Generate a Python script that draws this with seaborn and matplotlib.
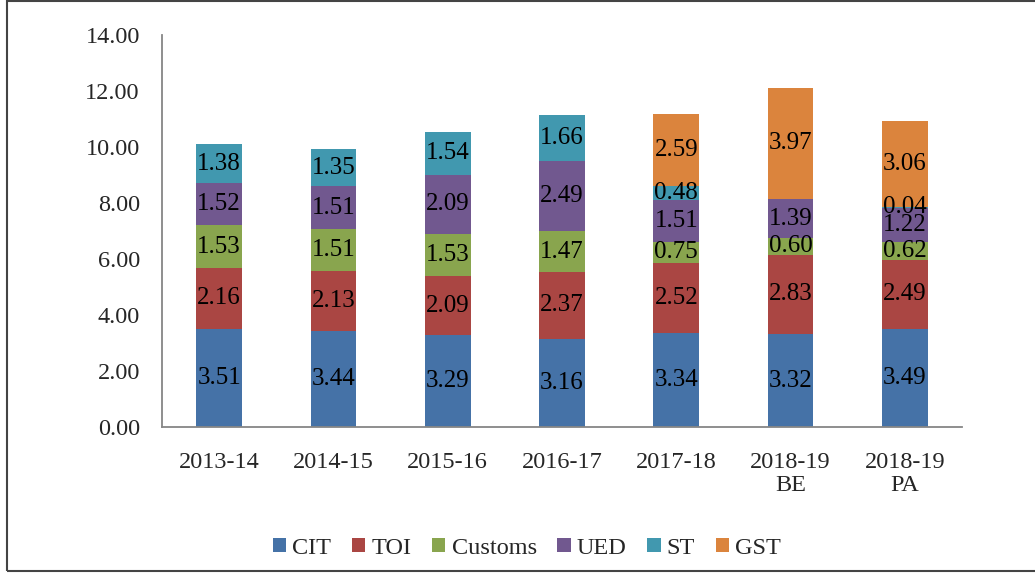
import numpy as np
import pandas as pd
import matplotlib
matplotlib.use("Agg")
import matplotlib.pyplot as plt
from matplotlib.patches import Rectangle, Patch
import seaborn as sns

categories = ["2013-14", "2014-15", "2015-16", "2016-17", "2017-18", "2018-19\nBE", "2018-19\nPA"]
series_names = ["CIT", "TOI", "Customs", "UED", "ST", "GST"]
cit = [3.51, 3.44, 3.29, 3.16, 3.34, 3.32, 3.49]
toi = [2.16, 2.13, 2.09, 2.37, 2.52, 2.83, 2.49]
customs = [1.53, 1.51, 1.53, 1.47, 0.75, 0.60, 0.62]
ued = [1.52, 1.51, 2.09, 2.49, 1.51, 1.39, 1.22]
st = [1.38, 1.35, 1.54, 1.66, 0.48, 0.00, 0.04]
gst = [0.00, 0.00, 0.00, 0.00, 2.59, 3.97, 3.06]
yticks = [0, 2, 4, 6, 8, 10, 12, 14]

colors = ["#4572A7", "#AA4643", "#89A54E", "#71588F", "#4198AF", "#DB843D"]

sns.set_style("white")
plt.rcParams["font.family"] = ["Liberation Serif", "DejaVu Serif"]

W, H = 1035, 573
fig = plt.figure(figsize=(W / 100, H / 100), dpi=100)
ax = fig.add_axes([162 / W, 1 - 427 / H, (962 - 162) / W, (427 - 35) / H])

data = [cit, toi, customs, ued, st, gst]
cum = np.cumsum(np.array(data), axis=0)

# draw cumulative bars from top series down so lower ones overlay
for i in range(len(series_names) - 1, -1, -1):
    df = pd.DataFrame({"cat": categories, "val": cum[i]})
    sns.barplot(data=df, x="cat", y="val", color=colors[i], width=0.4,
                saturation=1, ax=ax, edgecolor="none", linewidth=0)

for i, vals in enumerate(data):
    for j, v in enumerate(vals):
        if v > 0:
            ax.text(j, cum[i][j] - v / 2, f"{v:.2f}", ha="center", va="center",
                    fontsize=18, color="black")

ax.set_ylim(0, 14)
ax.set_xlim(-0.5, len(categories) - 0.5)
ax.set_yticks(yticks)
ax.set_yticklabels([f"{t:.2f}" for t in yticks], fontsize=17.5)
ax.set_xticks(range(len(categories)))
ax.set_xticklabels(categories, fontsize=17.5, linespacing=1.1)
ax.set_xlabel("")
ax.set_ylabel("")
ax.tick_params(axis="x", which="major", length=0, pad=18)
ax.set_xticks(np.arange(-0.5, len(categories), 1), minor=True)
ax.tick_params(axis="x", which="minor", length=6, color="#868686", width=1.2, direction="out")
ax.tick_params(axis="y", length=6, color="#868686", width=1.2, direction="out", pad=10)
for s in ["top", "right"]:
    ax.spines[s].set_visible(False)
for s in ["left", "bottom"]:
    ax.spines[s].set_color("#868686")
    ax.spines[s].set_linewidth(1.3)

handles = [Patch(facecolor=c, edgecolor="none", label=n) for c, n in zip(colors, series_names)]
fig.legend(handles=handles, loc="center", bbox_to_anchor=(527 / W, 1 - 548 / H), ncol=6,
           frameon=False, fontsize=17.5, handlelength=0.55, handleheight=0.55,
           handletextpad=0.25, columnspacing=0.85)

fig.patches.append(Rectangle((7 / W, 1 - 571 / H), 1.2, (570 / H), transform=fig.transFigure,
                             fill=False, edgecolor="#444444", linewidth=1.5, clip_on=False))

fig.savefig("out.png", dpi=100)
